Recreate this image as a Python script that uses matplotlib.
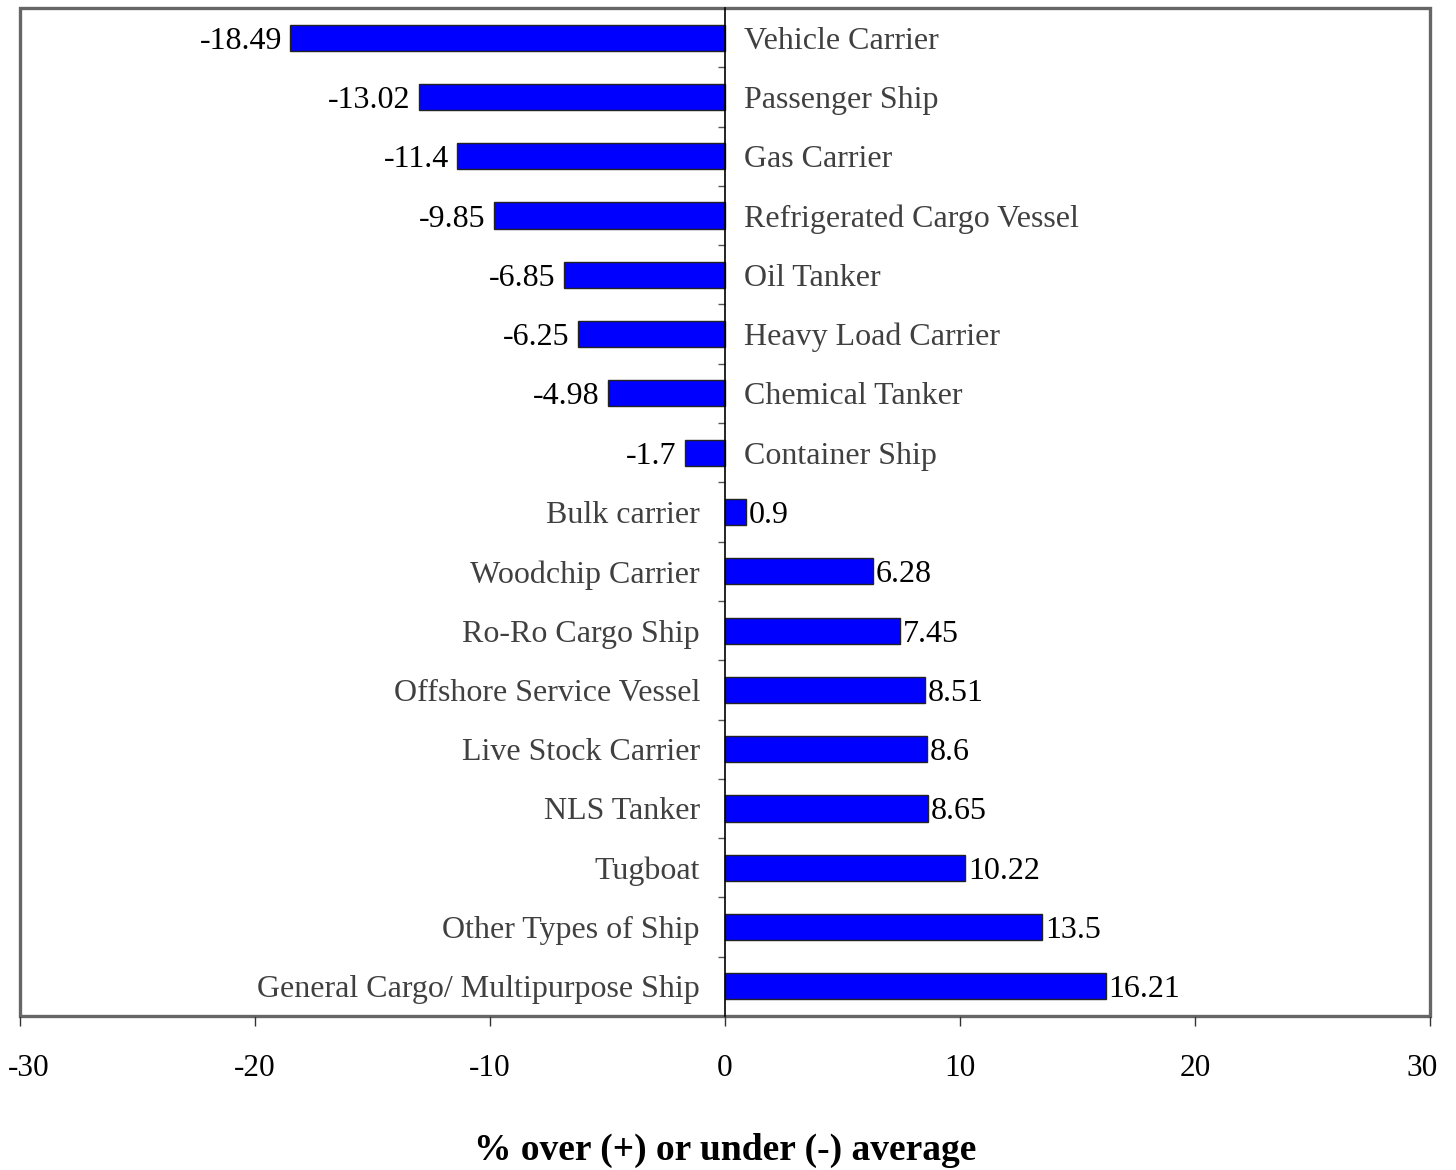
import matplotlib.pyplot as plt
import matplotlib.transforms as mtransforms
import numpy as np

plt.rcParams['font.family'] = ['Liberation Serif', 'DejaVu Serif']

# Data (top to bottom)
ships = ['Vehicle Carrier', 'Passenger Ship', 'Gas Carrier', 'Refrigerated Cargo Vessel',
         'Oil Tanker', 'Heavy Load Carrier', 'Chemical Tanker', 'Container Ship',
         'Bulk carrier', 'Woodchip Carrier', 'Ro-Ro Cargo Ship', 'Offshore Service Vessel',
         'Live Stock Carrier', 'NLS Tanker', 'Tugboat', 'Other Types of Ship',
         'General Cargo/ Multipurpose Ship']
pct = [-18.49, -13.02, -11.4, -9.85, -6.85, -6.25, -4.98, -1.7,
       0.9, 6.28, 7.45, 8.51, 8.6, 8.65, 10.22, 13.5, 16.21]
xticks = [-30, -20, -10, 0, 10, 20, 30]

n = len(ships)
y = np.arange(n)

fig = plt.figure(figsize=(14.56, 11.7), dpi=100)
ax = fig.add_axes([20/1456, 1 - 1016/1170, 1410/1456, 1008/1170])

ax.barh(y, pct, height=0.44, color='#0000FF', edgecolor='#222222', linewidth=1, zorder=2)

ax.set_xlim(-30, 30)
ax.set_ylim(n - 0.5, -0.5)

# zero line carries the category ticks
ax.spines['left'].set_position(('data', 0))
ax.spines['left'].set_color('black')
ax.spines['left'].set_linewidth(1.2)
ax.spines['left'].set_zorder(3)
ax.set_yticks(y[:-1] + 0.5)
ax.set_yticklabels([])
ax.tick_params(axis='y', direction='out', length=5, width=1, color='#555555')

for s in ['top', 'right', 'bottom']:
    ax.spines[s].set_color('#666666')
    ax.spines[s].set_linewidth(1.2)
ax.patch.set_edgecolor('#666666')
ax.patch.set_linewidth(2.4)

ax.set_xticks(xticks)
ax.set_xticklabels([str(t) for t in xticks])
ax.tick_params(axis='x', direction='out', length=7, width=1, color='#333333',
               labelsize=22.5, pad=20)
# end labels sit a little inside, as in the original
lbls = ax.get_xticklabels()
lbls[0].set_transform(lbls[0].get_transform() + mtransforms.ScaledTranslation(9/100, 0, fig.dpi_scale_trans))
lbls[-1].set_transform(lbls[-1].get_transform() + mtransforms.ScaledTranslation(-8/100, 0, fig.dpi_scale_trans))

fs = 23
for yi, name, v in zip(y, ships, pct):
    if v < 0:
        ax.annotate(str(v), (v, yi), xytext=(-6, 0), textcoords='offset points',
                    ha='right', va='center_baseline', fontsize=fs, color='black')
        ax.annotate(name, (0, yi), xytext=(14, 0), textcoords='offset points',
                    ha='left', va='center_baseline', fontsize=fs, color='#404040')
    else:
        ax.annotate(str(v), (v, yi), xytext=(2, 0), textcoords='offset points',
                    ha='left', va='center_baseline', fontsize=fs, color='black')
        ax.annotate(name, (0, yi), xytext=(-18, 0), textcoords='offset points',
                    ha='right', va='center_baseline', fontsize=fs, color='#404040')

ax.set_xlabel('% over (+) or under (-) average', fontsize=27, fontweight='bold', labelpad=36)

plt.savefig('out.png', dpi=100)
